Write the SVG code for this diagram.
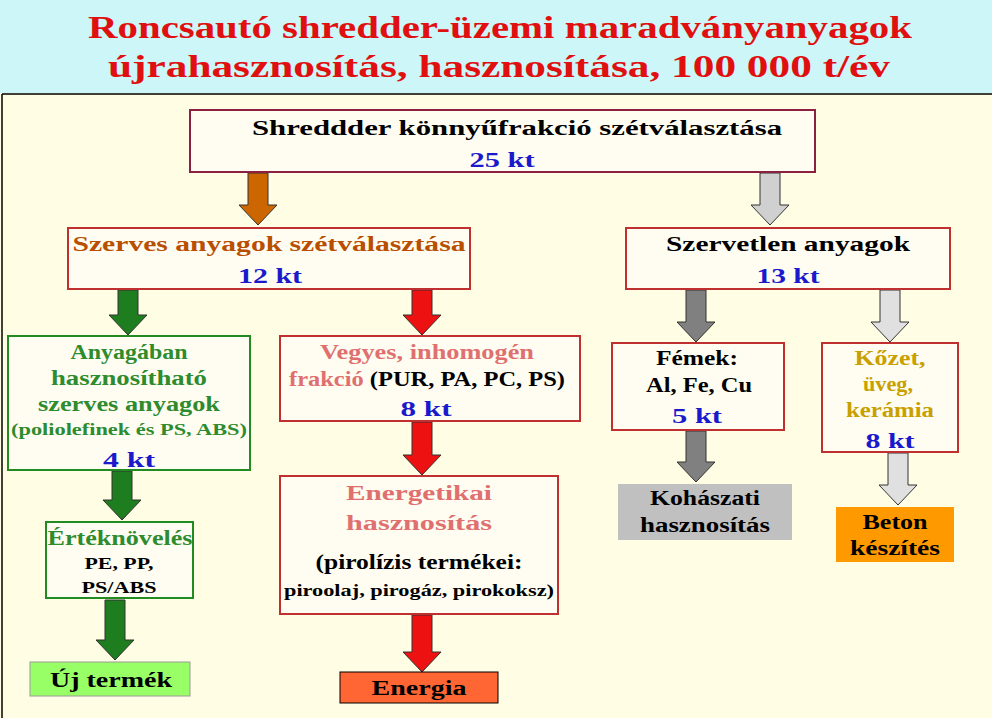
<svg xmlns="http://www.w3.org/2000/svg" width="992" height="718" viewBox="0 0 992 718">
<defs>
<style>
text{font-family:"Liberation Serif","DejaVu Serif",serif;font-weight:bold;text-anchor:middle}
.t{font-size:20px}
.s{font-size:17px}
.k{font-size:22px;fill:#1a1acc}
.box{stroke:#c03030;stroke-width:2;fill:#fffdf2}
.g{stroke:#228b22;stroke-width:2;fill:#fffdf2}
</style>
</defs>
<rect x="0" y="0" width="992" height="718" fill="#fffde3"/>
<rect x="0" y="0" width="992" height="93" fill="#ccf6f8"/>
<line x1="2" y1="94" x2="992" y2="94" stroke="#000" stroke-width="1.5"/>
<line x1="2" y1="94" x2="2" y2="718" stroke="#000" stroke-width="1.5"/>
<text x="500" y="38" style="font-size:31px;fill:#e01010" textLength="824" lengthAdjust="spacingAndGlyphs">Roncsautó shredder-üzemi maradványanyagok</text>
<text x="499" y="77" style="font-size:31px;fill:#e01010" textLength="782" lengthAdjust="spacingAndGlyphs">újrahasznosítás, hasznosítása, 100 000 t/év</text>

<g id="connectors" stroke="#333" stroke-width="1">
<polygon points="248,173 268,173 268,205 277,205 258,225 239,205 248,205" fill="#cc6600"/>
<polygon points="760,173 780,173 780,205 789,205 770,225 751,205 760,205" fill="#d0d0d0"/>
<polygon points="118,290 138,290 138,315 147,315 128,335 109,315 118,315" fill="#1e7d1e"/>
<polygon points="412,290 432,290 432,315 441,315 422,335 403,315 412,315" fill="#ee1111"/>
<polygon points="686,290 706,290 706,322 715,322 696,342 677,322 686,322" fill="#808080"/>
<polygon points="880,290 900,290 900,322 909,322 890,342 871,322 880,322" fill="#e0e0e0"/>
<polygon points="412,422 432,422 432,455 441,455 422,475 403,455 412,455" fill="#ee1111"/>
<polygon points="112,471 132,471 132,500 141,500 122,520 103,500 112,500" fill="#1e7d1e"/>
<polygon points="686,431 706,431 706,462 715,462 696,482 677,462 686,462" fill="#808080"/>
<polygon points="888,453 908,453 908,485 917,485 898,505 879,485 888,485" fill="#e0e0e0"/>
<polygon points="105,600 125,600 125,640 134,640 115,660 96,640 105,640" fill="#1e7d1e"/>
<polygon points="412,615 432,615 432,652 441,652 422,672 403,652 412,652" fill="#ee1111"/>
</g>

<g id="top"><rect x="190" y="110" width="625" height="62" stroke="#8b2040" stroke-width="2" fill="#fffdf2"/>
<text x="517" y="135" class="t" textLength="530" lengthAdjust="spacingAndGlyphs">Shreddder könnyűfrakció szétválasztása</text>
<text x="502" y="167" class="k" textLength="65" lengthAdjust="spacingAndGlyphs">25 kt</text></g>

<g id="szerves"><rect x="68" y="228" width="402" height="61" class="box"/>
<text x="269" y="251" class="t" fill="#b84f00" textLength="393" lengthAdjust="spacingAndGlyphs">Szerves anyagok szétválasztása</text>
<text x="270" y="283" class="k" textLength="64" lengthAdjust="spacingAndGlyphs">12 kt</text></g>

<g id="szervetlen"><rect x="626" y="228" width="324" height="61" class="box"/>
<text x="788" y="251" class="t" textLength="244" lengthAdjust="spacingAndGlyphs">Szervetlen anyagok</text>
<text x="788" y="283" class="k" textLength="63" lengthAdjust="spacingAndGlyphs">13 kt</text></g>

<g id="anyagaban"><rect x="8" y="336" width="242" height="134" class="g"/>
<text x="129" y="359" class="t" fill="#2e8b2e" textLength="117" lengthAdjust="spacingAndGlyphs">Anyagában</text>
<text x="129" y="385" class="t" fill="#2e8b2e" textLength="156" lengthAdjust="spacingAndGlyphs">hasznosítható</text>
<text x="129" y="411" class="t" fill="#2e8b2e" textLength="182" lengthAdjust="spacingAndGlyphs">szerves anyagok</text>
<text x="129" y="435" class="s" fill="#2e8b2e" textLength="236" lengthAdjust="spacingAndGlyphs">(poliolefinek és PS, ABS)</text>
<text x="129" y="467" class="k" textLength="52" lengthAdjust="spacingAndGlyphs">4 kt</text></g>

<g id="vegyes"><rect x="280" y="336" width="300" height="85" class="box"/>
<text x="427" y="359" class="t" fill="#e07070" textLength="214" lengthAdjust="spacingAndGlyphs">Vegyes, inhomogén</text>
<text x="427" y="386" class="t" textLength="276" lengthAdjust="spacingAndGlyphs"><tspan fill="#e07070">frakció</tspan> (PUR, PA, PC, PS)</text>
<text x="426" y="416" class="k" textLength="51" lengthAdjust="spacingAndGlyphs">8 kt</text></g>

<g id="energetikai"><rect x="280" y="476" width="278" height="138" class="box"/>
<text x="419" y="500" class="t" fill="#e07070" textLength="146" lengthAdjust="spacingAndGlyphs">Energetikai</text>
<text x="419" y="530" class="t" fill="#e07070" textLength="146" lengthAdjust="spacingAndGlyphs">hasznosítás</text>
<text x="419" y="569" class="t" textLength="207" lengthAdjust="spacingAndGlyphs">(pirolízis termékei:</text>
<text x="419" y="596" class="s" textLength="270" lengthAdjust="spacingAndGlyphs">piroolaj, pirogáz, pirokoksz)</text></g>

<g id="energia"><rect x="340" y="672" width="158" height="31" fill="#ff6633" stroke="#000" stroke-width="1"/>
<text x="419" y="695" class="t" textLength="95" lengthAdjust="spacingAndGlyphs">Energia</text></g>

<g id="erteknoveles"><rect x="46" y="522" width="147" height="76" class="g"/>
<text x="120" y="545" class="t" fill="#2e8b2e" textLength="145" lengthAdjust="spacingAndGlyphs">Értéknövelés</text>
<text x="119" y="569" class="s" textLength="69" lengthAdjust="spacingAndGlyphs">PE, PP,</text>
<text x="119" y="593" class="s" textLength="75" lengthAdjust="spacingAndGlyphs">PS/ABS</text></g>

<g id="ujtermek"><rect x="30" y="662" width="160" height="34" fill="#99ff66" stroke="#999" stroke-width="1"/>
<text x="111" y="687" class="t" textLength="122" lengthAdjust="spacingAndGlyphs">Új termék</text></g>

<g id="femek"><rect x="612" y="343" width="172" height="87" class="box"/>
<text x="697" y="365" class="t" textLength="82" lengthAdjust="spacingAndGlyphs">Fémek:</text>
<text x="699" y="392" class="t" textLength="106" lengthAdjust="spacingAndGlyphs">Al, Fe, Cu</text>
<text x="697" y="423" class="k" textLength="50" lengthAdjust="spacingAndGlyphs">5 kt</text></g>

<g id="kohaszati"><rect x="618" y="484" width="174" height="56" fill="#c0c0c0"/>
<text x="705" y="505" class="t" textLength="110" lengthAdjust="spacingAndGlyphs">Kohászati</text>
<text x="705" y="532" class="t" textLength="130" lengthAdjust="spacingAndGlyphs">hasznosítás</text></g>

<g id="kozet"><rect x="822" y="343" width="136" height="109" class="box"/>
<text x="890" y="365" class="t" fill="#c8a000" textLength="71" lengthAdjust="spacingAndGlyphs">Kőzet,</text>
<text x="888" y="391" class="t" fill="#c8a000" textLength="50" lengthAdjust="spacingAndGlyphs">üveg,</text>
<text x="890" y="417" class="t" fill="#c8a000" textLength="88" lengthAdjust="spacingAndGlyphs">kerámia</text>
<text x="890" y="448" class="k" textLength="49" lengthAdjust="spacingAndGlyphs">8 kt</text></g>

<g id="beton"><rect x="836" y="507" width="118" height="55" fill="#ff9900"/>
<text x="895" y="529" class="t" textLength="65" lengthAdjust="spacingAndGlyphs">Beton</text>
<text x="895" y="555" class="t" textLength="90" lengthAdjust="spacingAndGlyphs">készítés</text></g>
</svg>
